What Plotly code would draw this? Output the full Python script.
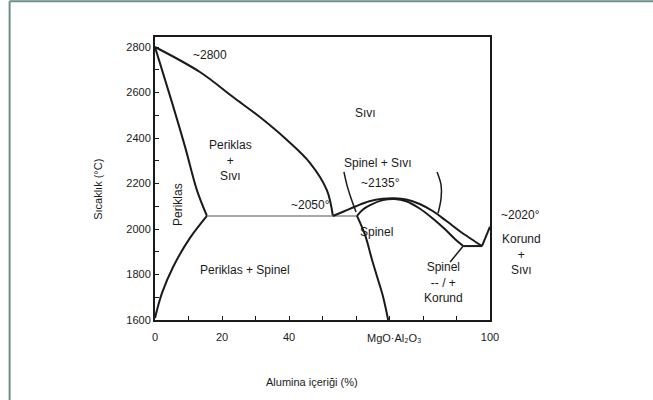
import plotly.graph_objects as go

# ---- data ----
liq_mgo_x = [0, 13.4, 23.3, 31.3, 39.4, 46.3, 51.3, 53.1]
liq_mgo_y = [2800, 2690, 2580, 2492, 2391, 2290, 2171, 2057]

per_sol_x = [0, 5, 9, 12.5, 15.5]
per_sol_y = [2800, 2560, 2360, 2171, 2058]

per_solvus_x = [15.5, 10.4, 5.4, 2.1, 0]
per_solvus_y = [2058, 1960, 1833, 1719, 1609]

eut1_x = [15.5, 60.3]
eut1_y = [2057, 2057]

sp_liq_x = [53.1, 56.5, 60, 64, 68, 71.5, 75, 79, 83, 87, 91, 94.5, 97.6]
sp_liq_y = [2057, 2078, 2100, 2122, 2133, 2135, 2130, 2110, 2078, 2035, 1990, 1955, 1925]

sp_sol_x = [60.3, 62, 64.2, 68, 71.5, 75, 79, 83, 86.5, 89.6, 92]
sp_sol_y = [2058, 2085, 2105, 2127, 2132, 2122, 2090, 2045, 2000, 1955, 1925]

sp_solvus_x = [60.3, 62.7, 64.8, 66.6, 68.1, 69.6]
sp_solvus_y = [2058, 1974, 1864, 1776, 1701, 1600]

eut2_x = [92, 97.6]
eut2_y = [1925, 1925]

kor_liq_x = [97.6, 100]
kor_liq_y = [1925, 2010]

sp_solvus_r_x = [92, 88.1]
sp_solvus_r_y = [1925, 1855]

lead_l_x = [56.4, 57.3, 58.5, 60]
lead_l_y = [2251, 2193, 2136, 2075]
lead_r_x = [84.2, 85.4, 85.4, 84.5]
lead_r_y = [2251, 2193, 2136, 2070]

x_tick_vals = [0, 10, 20, 30, 40, 50, 60, 70, 80, 90, 100]
x_tick_text = ["0", "", "20", "", "40", "", "", "", "", "", "100"]
y_tick_vals = list(range(1600, 2801, 100))
y_tick_text = [str(v) if v % 200 == 0 else "" for v in y_tick_vals]

labels = [
    ("~2800", 16.4, 2765),
    ("Sıvı", 62.7, 2510),
    ("Periklas<br>+<br>Sıvı", 22.4, 2299),
    ("~2050°", 46.3, 2106),
    ("Spinel + Sıvı", 66.6, 2290),
    ("~2135°", 67.2, 2202),
    ("Spinel", 66.0, 1987),
    ("Periklas + Spinel", 26.9, 1820),
    ("Spinel<br>-- / +<br>Korund", 86.0, 1763),
]
# labels right of the plot box (x in paper units, y in data units)
side_labels = [
    ("~2020°", 1.09, 2062),
    ("Korund<br>+<br>Sıvı", 1.095, 1886),
]

FONT = "Liberation Sans"
INK = "#1a1a1a"

fig = go.Figure()

def curve(x, y, color=INK, width=2, shape="spline"):
    fig.add_trace(go.Scatter(x=x, y=y, mode="lines", line=dict(color=color, width=width, shape=shape),
                             hoverinfo="skip", showlegend=False))

curve(liq_mgo_x, liq_mgo_y)
curve(per_sol_x, per_sol_y)
curve(per_solvus_x, per_solvus_y)
curve(eut1_x, eut1_y, color="#8a8a8a", width=1.6, shape="linear")
curve(sp_liq_x, sp_liq_y)
curve(sp_sol_x, sp_sol_y)
curve(sp_solvus_x, sp_solvus_y)
curve(eut2_x, eut2_y, shape="linear")
curve(kor_liq_x, kor_liq_y, shape="linear")
curve(sp_solvus_r_x, sp_solvus_r_y, width=1.5, shape="linear")
curve(lead_l_x, lead_l_y, width=1.5)
curve(lead_r_x, lead_r_y, width=1.5)

for txt, x, y in labels:
    fig.add_annotation(x=x, y=y, text=txt, showarrow=False,
                       font=dict(family=FONT, size=12, color=INK))
for txt, x, y in side_labels:
    fig.add_annotation(x=x, xref="paper", y=y, text=txt, showarrow=False,
                       xanchor="center", yanchor="middle",
                       font=dict(family=FONT, size=12, color=INK))

fig.add_annotation(x=6.9, y=2106, text="Periklas", textangle=-90, showarrow=False,
                   font=dict(family=FONT, size=12, color=INK))
fig.add_annotation(x=71.6, y=-0.065, yref="paper", yanchor="middle", text="MgO·Al₂O₃",
                   showarrow=False, font=dict(family=FONT, size=11, color=INK))
fig.add_annotation(x=0.47, xref="paper", y=-0.22, yref="paper", yanchor="middle",
                   text="Alumina içeriği (%)",
                   showarrow=False, font=dict(family=FONT, size=11, color=INK))
fig.add_annotation(x=-0.17, xref="paper", xanchor="center", y=0.46, yref="paper",
                   yanchor="middle", text="Sıcaklık (°C)",
                   textangle=-90, showarrow=False, font=dict(family=FONT, size=11, color=INK))

# outer frame (top and left edges)
frame = "#6b8f8a"
fig.add_shape(type="line", xref="paper", yref="paper", x0=-0.434, x1=1.49, y0=1.126, y1=1.126,
              line=dict(color=frame, width=2))
fig.add_shape(type="line", xref="paper", yref="paper", x0=-0.434, x1=-0.434, y0=1.126, y1=-0.29,
              line=dict(color=frame, width=2))

axis_common = dict(showline=True, mirror=True, linecolor=INK, linewidth=2, ticks="inside",
                   ticklen=4, tickcolor=INK, showgrid=False, zeroline=False,
                   tickfont=dict(family=FONT, size=11, color=INK))
fig.update_xaxes(range=[0, 100], tickvals=x_tick_vals, ticktext=x_tick_text,
                 ticklabelstandoff=6, **axis_common)
fig.update_yaxes(range=[1600, 2844], tickvals=y_tick_vals, ticktext=y_tick_text, **axis_common)

fig.update_layout(width=653, height=400, margin=dict(l=155, r=163, t=37, b=80),
                  paper_bgcolor="white", plot_bgcolor="white", showlegend=False)

fig.write_html("out.html")
